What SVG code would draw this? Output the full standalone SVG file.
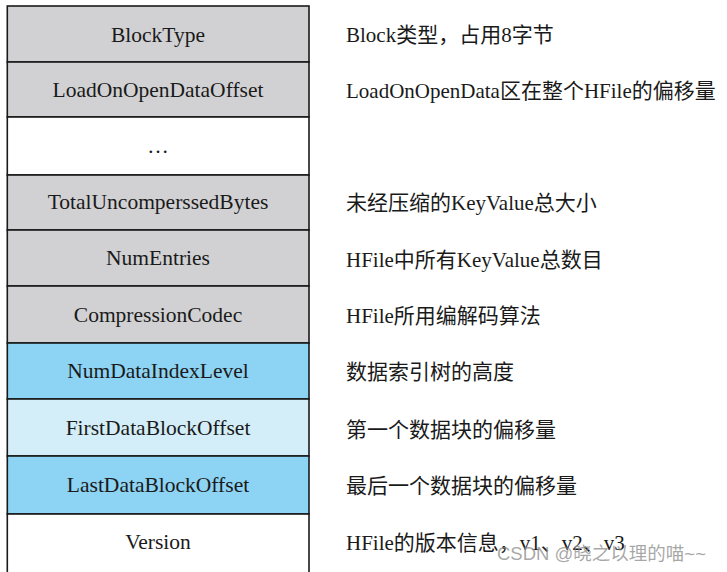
<svg xmlns="http://www.w3.org/2000/svg" width="727" height="572" viewBox="0 0 727 572">
<style>
.cell{stroke:#1a1a1a;stroke-width:1.6}
.g{fill:#d1d1d3}
.b{fill:#8dd3f3}
.lb{fill:#d4eef9}
.w{fill:#ffffff}
.t{font-family:"Liberation Serif","Noto Sans CJK SC",serif;font-size:21.5px;fill:#1a1a1a}
.c{text-anchor:middle}
.d{font-family:"Liberation Serif","Noto Sans CJK SC",serif;font-size:21px;fill:#1a1a1a}
.wm{font-family:"Liberation Sans","Noto Sans CJK SC",sans-serif;font-size:18.5px;fill:#8a8a8a;fill-opacity:0.75}
</style>
<rect width="727" height="572" fill="#ffffff"/>
<g id="table">
<g id="n-blocktype"><rect class="cell g" x="7.3" y="6" width="301.7" height="56"/><text class="t c" x="158" y="41.5">BlockType</text></g>
<g id="n-loadonopen"><rect class="cell g" x="7.3" y="62" width="301.7" height="55"/><text class="t c" x="158" y="97">LoadOnOpenDataOffset</text></g>
<g id="n-ellipsis"><rect class="cell w" x="7.3" y="117" width="301.7" height="58"/><text class="t c" x="158" y="153">…</text></g>
<g id="n-totaluncomp"><rect class="cell g" x="7.3" y="175" width="301.7" height="55"/><text class="t c" x="158" y="209">TotalUncomperssedBytes</text></g>
<g id="n-numentries"><rect class="cell g" x="7.3" y="230" width="301.7" height="56"/><text class="t c" x="158" y="264.5">NumEntries</text></g>
<g id="n-compression"><rect class="cell g" x="7.3" y="286" width="301.7" height="57"/><text class="t c" x="158" y="321.5">CompressionCodec</text></g>
<g id="n-numdataindex"><rect class="cell b" x="7.3" y="343" width="301.7" height="56"/><text class="t c" x="158" y="378">NumDataIndexLevel</text></g>
<g id="n-firstdata"><rect class="cell lb" x="7.3" y="399" width="301.7" height="57"/><text class="t c" x="158" y="434.5">FirstDataBlockOffset</text></g>
<g id="n-lastdata"><rect class="cell b" x="7.3" y="456" width="301.7" height="58"/><text class="t c" x="158" y="491.5">LastDataBlockOffset</text></g>
<g id="n-version"><rect class="cell w" x="7.3" y="514" width="301.7" height="70"/><text class="t c" x="158" y="548.5">Version</text></g>
</g>
<g id="descriptions">
<text class="d" x="346" y="42">Block类型，占用8字节</text>
<text class="d" x="346" y="97.5">LoadOnOpenData区在整个HFile的偏移量</text>
<text class="d" x="346" y="209.5">未经压缩的KeyValue总大小</text>
<text class="d" x="346" y="266.5">HFile中所有KeyValue总数目</text>
<text class="d" x="346" y="322.5">HFile所用编解码算法</text>
<text class="d" x="346" y="378.5">数据索引树的高度</text>
<text class="d" x="346" y="436.5">第一个数据块的偏移量</text>
<text class="d" x="346" y="492.5">最后一个数据块的偏移量</text>
<text class="d" x="346" y="549.5">HFile的版本信息，v1、v2、v3</text>
</g>
<text class="wm" x="497" y="560">CSDN @晓之以理的喵~~</text>
</svg>
